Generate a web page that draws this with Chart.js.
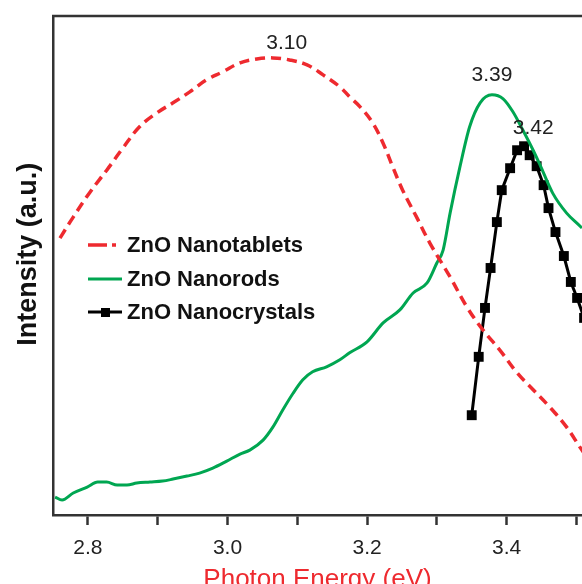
<!DOCTYPE html>
<html>
<head>
<meta charset="utf-8">
<script src="https://cdn.jsdelivr.net/npm/chart.js@4"></script>
<style>
  html, body { margin: 0; padding: 0; background: #fff; overflow: hidden; }
  #wrap { position: relative; width: 582px; height: 600px; }
</style>
</head>
<body>
<div id="wrap"><canvas id="myChart"></canvas></div>
<script>
// ZnO Nanotablets (red dashed)
var tabletsE = [2.760, 2.779, 2.803, 2.827, 2.850, 2.874, 2.899, 2.922, 2.946, 2.970, 2.993, 3.018, 3.042, 3.065, 3.089, 3.114, 3.137, 3.161, 3.175, 3.190, 3.208, 3.223, 3.237, 3.251, 3.271, 3.290, 3.319, 3.343, 3.366, 3.390, 3.415, 3.438, 3.462, 3.486, 3.505, 3.515];
var tabletsI = [55.5, 59.7, 64.7, 69.1, 73.5, 77.8, 80.6, 82.6, 84.8, 87.2, 88.8, 90.6, 91.4, 91.6, 91.2, 90.2, 88.2, 85.8, 83.8, 81.8, 78.6, 74.5, 69.7, 65.1, 59.7, 54.5, 47.7, 41.7, 37.1, 33.1, 28.5, 25.1, 21.6, 17.6, 13.6, 11.6];

// ZnO Nanorods (green)
var rodsE = [2.753, 2.763, 2.779, 2.799, 2.814, 2.827, 2.842, 2.856, 2.870, 2.889, 2.907, 2.922, 2.942, 2.960, 2.979, 2.999, 3.018, 3.032, 3.051, 3.065, 3.079, 3.094, 3.108, 3.122, 3.142, 3.161, 3.175, 3.200, 3.223, 3.247, 3.266, 3.286, 3.300, 3.309, 3.319, 3.333, 3.347, 3.362, 3.379, 3.395, 3.409, 3.423, 3.438, 3.448, 3.466, 3.486, 3.508, 3.520];
var rodsI = [3.6, 3.0, 4.4, 5.6, 6.6, 6.6, 6.0, 6.0, 6.4, 6.6, 6.8, 7.2, 7.8, 8.4, 9.4, 10.8, 12.2, 13.0, 15.0, 17.6, 21.0, 24.4, 27.1, 28.7, 29.7, 31.1, 32.5, 34.7, 38.5, 41.1, 44.5, 46.5, 50.5, 53.1, 60.5, 69.7, 77.8, 82.6, 84.2, 83.4, 80.8, 77.2, 73.1, 70.1, 64.5, 60.5, 57.5, 55.5];

// ZnO Nanocrystals (black squares)
var crystalsE = [3.350, 3.360, 3.369, 3.377, 3.386, 3.393, 3.405, 3.415, 3.425, 3.433, 3.443, 3.453, 3.460, 3.470, 3.482, 3.492, 3.501, 3.511];
var crystalsI = [20.0, 31.7, 41.5, 49.5, 58.7, 65.1, 69.5, 73.1, 73.9, 72.1, 69.9, 66.1, 61.5, 56.7, 51.9, 46.7, 43.5, 39.5];

var seriesNames = ['ZnO Nanotablets', 'ZnO Nanorods', 'ZnO Nanocrystals'];

// peak labels
var peakText = ['3.10', '3.39', '3.42'];
var peakE = [3.085, 3.379, 3.438];
var peakI = [94.6, 88.2, 77.6];

function pts(xs, ys) {
  return xs.map(function (x, i) { return { x: x, y: ys[i] }; });
}

var axisColor = '#333';
var sans = '"Liberation Sans", Arial, sans-serif';

var extras = {
  id: 'extras',
  afterDraw: function (chart) {
    var c = chart.ctx, a = chart.chartArea;
    var xs = chart.scales.x, ys = chart.scales.y;

    // top frame line
    c.save();
    c.strokeStyle = axisColor;
    c.lineWidth = 2.5;
    c.beginPath();
    c.moveTo(a.left - 1, a.top);
    c.lineTo(chart.width, a.top);
    c.stroke();
    c.restore();

    // peak labels
    c.save();
    c.fillStyle = '#222';
    c.font = '21px ' + sans;
    c.textAlign = 'center';
    c.textBaseline = 'middle';
    for (var i = 0; i < peakText.length; i++) {
      c.fillText(peakText[i], xs.getPixelForValue(peakE[i]), ys.getPixelForValue(peakI[i]));
    }
    c.restore();

    // legend
    var rows = [245, 279, 312];
    var x0 = a.left + 35, x1 = a.left + 69;
    chart.data.datasets.forEach(function (ds, k) {
      var y = rows[k];
      c.save();
      c.strokeStyle = ds.borderColor;
      c.lineWidth = ds.borderWidth;
      if (ds.borderDash) c.setLineDash([19, 5]);
      c.beginPath();
      c.moveTo(x0, y);
      c.lineTo(ds.borderDash ? x1 - 6 : x1, y);
      c.stroke();
      c.setLineDash([]);
      if (ds.pointRadius > 0) {
        c.fillStyle = ds.pointBackgroundColor;
        c.fillRect((x0 + x1) / 2 - 4, y - 4, 9, 9);
      }
      c.fillStyle = '#111';
      c.font = 'bold 22px ' + sans;
      c.textBaseline = 'middle';
      c.fillText(ds.label, a.left + 74, y + 1);
      c.restore();
    });
  }
};

new Chart(document.getElementById('myChart'), {
  type: 'line',
  data: {
    datasets: [{
      label: seriesNames[0],
      data: pts(tabletsE, tabletsI),
      borderColor: '#ee2a2f',
      borderWidth: 3.5,
      borderDash: [10, 6],
      pointRadius: 0,
      tension: 0.4
    }, {
      label: seriesNames[1],
      data: pts(rodsE, rodsI),
      borderColor: '#00a651',
      borderWidth: 3,
      pointRadius: 0,
      cubicInterpolationMode: 'monotone'
    }, {
      label: seriesNames[2],
      data: pts(crystalsE, crystalsI),
      borderColor: '#000',
      borderWidth: 3,
      pointStyle: 'rect',
      pointRadius: 7,
      pointBackgroundColor: '#000',
      pointBorderColor: '#000',
      pointBorderWidth: 0,
      tension: 0
    }]
  },
  options: {
    responsive: true,
    maintainAspectRatio: false,
    animation: false,
    events: [],
    layout: { autoPadding: false, padding: { top: 16, right: 0, bottom: 0, left: 0 } },
    plugins: {
      legend: { display: false },
      tooltip: { enabled: false }
    },
    scales: {
      x: {
        type: 'linear',
        min: 2.75,
        max: 3.508,
        afterFit: function (s) {
          s.height = 85;
          s.paddingLeft = 0;
          s.paddingRight = 0;
        },
        border: { color: axisColor, width: 2.5 },
        grid: {
          drawOnChartArea: false,
          drawTicks: true,
          tickLength: 10,
          tickWidth: 2.5,
          tickColor: axisColor
        },
        ticks: {
          stepSize: 0.1,
          includeBounds: false,
          autoSkip: false,
          maxRotation: 0,
          padding: 11,
          color: '#222',
          font: { family: sans, size: 21 },
          callback: function (v) {
            return Math.round(v * 10) % 2 === 0 ? v.toFixed(1) : '';
          }
        },
        title: {
          display: true,
          text: 'Photon Energy (eV)',
          color: '#ee2a2f',
          font: { family: sans, size: 26 },
          padding: { top: 0, bottom: 5 }
        }
      },
      y: {
        min: 0,
        max: 100,
        afterFit: function (s) { s.width = 53; },
        border: { display: true, color: axisColor, width: 2.5 },
        grid: { display: false, drawTicks: false },
        ticks: { display: false },
        title: {
          display: true,
          text: '   Intensity (a.u.)',
          color: '#111',
          font: { family: sans, size: 27, weight: 'bold' },
          padding: { top: 12, bottom: 0 }
        }
      }
    }
  },
  plugins: [extras]
});
</script>
</body>
</html>
